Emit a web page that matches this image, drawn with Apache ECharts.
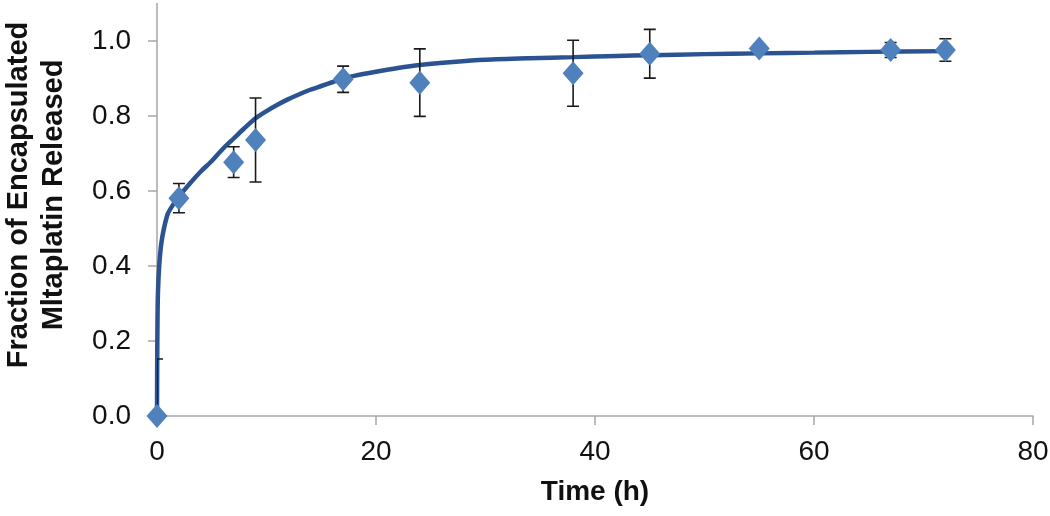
<!DOCTYPE html>
<html>
<head>
<meta charset="utf-8">
<script src="https://cdn.jsdelivr.net/npm/echarts@6/dist/echarts.min.js"></script>
<style>
  html, body { margin: 0; padding: 0; background: #fff; }
  #chart { width: 1050px; height: 516px; }
</style>
</head>
<body>
<div id="chart"></div>
<script>
// Measured data (time in hours, fraction released)
const timeH = [0, 2, 7, 9, 17, 24, 38, 45, 55, 67, 72];
const fraction = [0, 0.581, 0.677, 0.736, 0.898, 0.889, 0.914, 0.966, 0.980, 0.976, 0.976];
const errorSD = [0.152, 0.039, 0.041, 0.112, 0.035, 0.090, 0.088, 0.065, 0.012, 0.020, 0.030];

// Fitted curve
const fitT = [0, 0.02, 0.05, 0.1, 0.2, 0.35, 0.5, 0.75, 1, 1.5, 2, 3, 4, 5, 6, 7, 8, 9, 10, 11, 12, 13, 14, 15, 16, 17, 18, 20, 22, 24, 27, 30, 34, 38, 42, 45, 50, 55, 60, 65, 72];
const fitY = [0, 0.15, 0.27, 0.34, 0.40, 0.45, 0.48, 0.515, 0.54, 0.565, 0.585, 0.62, 0.652, 0.68, 0.712, 0.74, 0.768, 0.794, 0.813, 0.83, 0.845, 0.858, 0.87, 0.88, 0.89, 0.9, 0.907, 0.918, 0.928, 0.936, 0.944, 0.95, 0.954, 0.957, 0.96, 0.962, 0.965, 0.967, 0.969, 0.971, 0.973];

const yTicks = [0, 0.2, 0.4, 0.6, 0.8, 1.0];
const xTicks = [0, 20, 40, 60, 80];
const yTitleLines = ['Fraction of Encapsulated', 'Mltaplatin Released'];
const xTitle = 'Time (h)';

const chart = echarts.init(document.getElementById('chart'), null, { renderer: 'canvas' });

const pointData = timeH.map((t, i) => [t, fraction[i]]);
const errData = timeH.map((t, i) => [t, fraction[i] - errorSD[i], fraction[i] + errorSD[i]]);
const fitData = fitT.map((t, i) => [t, fitY[i]]);

const FONT = 'Liberation Sans, Arial, sans-serif';

chart.setOption({
  animation: false,
  backgroundColor: '#ffffff',
  grid: { left: 157, right: 17, top: 3.5, bottom: 100, containLabel: false, outerBoundsMode: 'none' },
  graphic: [
    {
      type: 'text', x: 19, y: 195, rotation: Math.PI / 2,
      style: { text: yTitleLines[0], fill: '#111', font: 'bold 29px ' + FONT, textAlign: 'center', textVerticalAlign: 'middle' }
    },
    {
      type: 'text', x: 54, y: 195, rotation: Math.PI / 2,
      style: { text: yTitleLines[1], fill: '#111', font: 'bold 29px ' + FONT, textAlign: 'center', textVerticalAlign: 'middle' }
    }
  ],
  xAxis: {
    type: 'value',
    min: 0, max: 80, interval: 20,
    splitLine: { show: false },
    axisLine: { show: true, lineStyle: { color: '#a6a6a6', width: 1.5 } },
    axisTick: { show: true, length: 9, lineStyle: { color: '#a6a6a6', width: 1.5 } },
    axisLabel: { color: '#111', fontSize: 28, fontFamily: FONT, margin: 22 },
    name: xTitle,
    nameLocation: 'middle',
    nameGap: 62,
    nameTextStyle: { color: '#111', fontSize: 28, fontWeight: 'bold', fontFamily: FONT }
  },
  yAxis: {
    type: 'value',
    min: 0, max: 1.1,
    splitLine: { show: false },
    axisLine: { show: true, lineStyle: { color: '#a6a6a6', width: 1.5 } },
    axisTick: { show: true, length: 9, customValues: yTicks, lineStyle: { color: '#a6a6a6', width: 1.5 } },
    axisLabel: {
      color: '#111', fontSize: 28, fontFamily: FONT, margin: 26,
      customValues: yTicks,
      formatter: v => v.toFixed(1)
    }
  },
  series: [
    {
      type: 'line',
      data: fitData,
      showSymbol: false,
      smooth: 0.25,
      lineStyle: { color: '#2b5291', width: 4.5 },
      z: 2
    },
    {
      type: 'custom',
      data: errData,
      clip: true,
      renderItem: function (params, api) {
        const x = api.value(0);
        const lo = api.coord([x, api.value(1)]);
        const hi = api.coord([x, api.value(2)]);
        const cap = 6;
        const style = { stroke: '#1a1a1a', lineWidth: 1.6 };
        return {
          type: 'group',
          children: [
            { type: 'line', shape: { x1: lo[0], y1: lo[1], x2: hi[0], y2: hi[1] }, style },
            { type: 'line', shape: { x1: lo[0] - cap, y1: lo[1], x2: lo[0] + cap, y2: lo[1] }, style },
            { type: 'line', shape: { x1: hi[0] - cap, y1: hi[1], x2: hi[0] + cap, y2: hi[1] }, style }
          ]
        };
      },
      z: 3
    },
    {
      type: 'scatter',
      data: pointData,
      symbol: 'diamond',
      symbolSize: [21, 24],
      itemStyle: { color: '#4f81bd', opacity: 1 },
      clip: false,
      z: 4
    }
  ]
});
</script>
</body>
</html>
